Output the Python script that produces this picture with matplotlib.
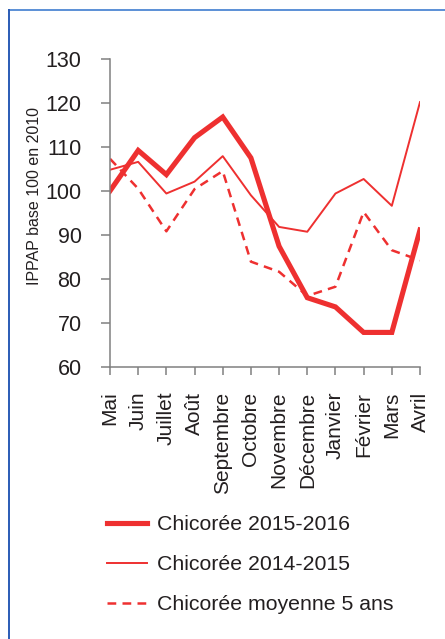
import matplotlib
matplotlib.use("Agg")
import matplotlib.pyplot as plt
from matplotlib.lines import Line2D

plt.rcParams['font.family'] = ['Liberation Sans', 'DejaVu Sans']

months = ["Mai", "Juin", "Juillet", "Août", "Septembre", "Octobre", "Novembre",
          "Décembre", "Janvier", "Février", "Mars", "Avril"]
s_2015_2016 = [100.0, 109.2, 103.7, 112.1, 116.8, 107.5, 87.4, 75.7, 73.6, 67.8, 67.8, 91.1]
s_2014_2015 = [104.8, 106.6, 99.4, 102.1, 107.9, 99.0, 91.8, 90.7, 99.4, 102.7, 96.6, 120.2]
s_moy5 = [107.3, 100.5, 90.8, 100.4, 104.5, 83.9, 81.6, 76.1, 78.2, 95.2, 86.5, 84.2]
labels = ["Chicorée 2015-2016", "Chicorée 2014-2015", "Chicorée moyenne 5 ans"]
yticks = [60, 70, 80, 90, 100, 110, 120, 130]

red = "#EE3030"
W, H = 445, 639
fig = plt.figure(figsize=(W / 100, H / 100), dpi=100)
ax = fig.add_axes([110 / W, 1 - 366.7 / H, 310 / W, 307.7 / H])

x = list(range(len(months)))
h1, = ax.plot(x, s_2015_2016, color=red, lw=3.7, solid_joinstyle='miter')
h2, = ax.plot(x, s_2014_2015, color=red, lw=1.4)
h3, = ax.plot(x, s_moy5, color=red, lw=1.8, dashes=(3.5, 2.5))

ax.set_xlim(0, 11)
ax.set_ylim(60, 130)
ax.set_yticks(yticks)
ax.set_xticks(x)
ax.set_xticklabels(months, rotation=90, fontsize=15, color="#231f20")
ax.tick_params(axis='y', labelsize=15.5, labelcolor="#231f20", length=6.5, width=1.1,
               color="#808080", pad=14)
ax.tick_params(axis='x', length=6, width=1.1, color="#808080", pad=12)
for s in ["top", "right"]:
    ax.spines[s].set_visible(False)
for s in ["left", "bottom"]:
    ax.spines[s].set_color("#808080")
    ax.spines[s].set_linewidth(1.1)
ax.set_ylabel("IPPAP base 100 en 2010", fontsize=11.5, color="#231f20")
ax.yaxis.set_label_coords((42 - 110) / 310, (366.7 - 196) / 307.7)

leg = fig.legend([h1, h2, h3], labels, loc="upper left",
                 bbox_to_anchor=(107 / W, 1 - 515 / H), frameon=False,
                 fontsize=15.3, handlelength=1.9, handletextpad=0.45,
                 labelspacing=0.99, borderpad=0, borderaxespad=0)
for t in leg.get_texts():
    t.set_color("#231f20")

fig.add_artist(Line2D([9 / W, 1], [1 - 10 / H, 1 - 10 / H], color="#5b8fd6", lw=1.4))
fig.add_artist(Line2D([9 / W, 9 / W], [1 - 10 / H, 0], color="#2a5bb5", lw=1.4))

fig.savefig("out.png", dpi=100)
